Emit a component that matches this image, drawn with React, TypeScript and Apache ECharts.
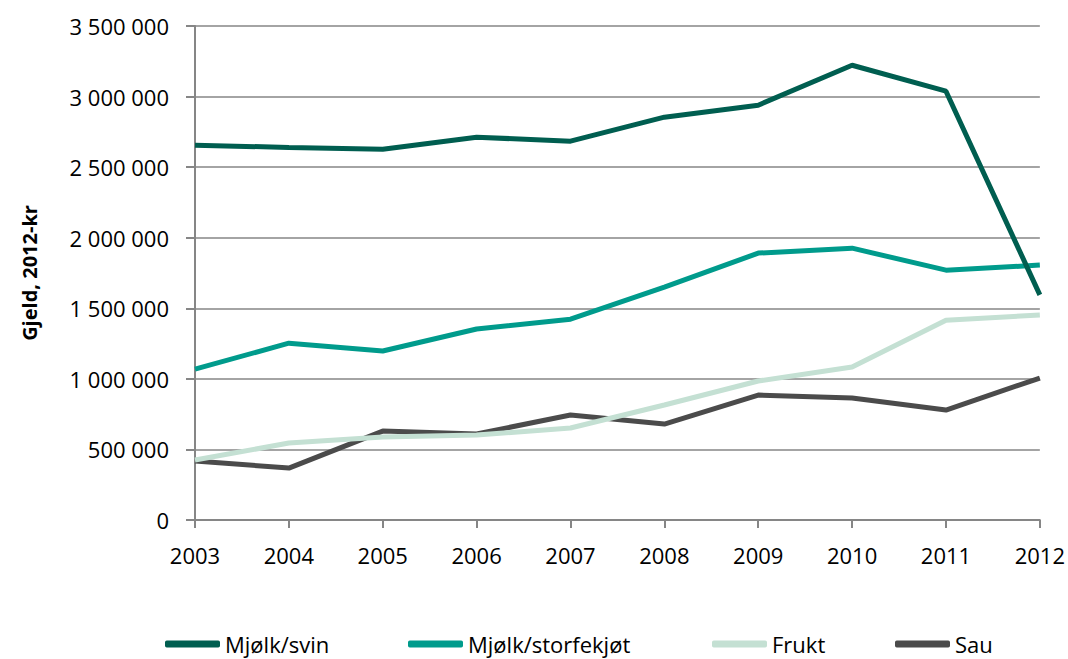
import React, { useEffect, useRef } from "react";
import * as echarts from "echarts";

const years = ["2003", "2004", "2005", "2006", "2007", "2008", "2009", "2010", "2011", "2012"];
const seriesNames = ["Mjølk/svin", "Mjølk/storfekjøt", "Frukt", "Sau"];
const mjolkSvin = [2655000, 2640000, 2627000, 2712000, 2684000, 2854000, 2939000, 3222000, 3038000, 1595000];
const mjolkStorfe = [1069000, 1253000, 1197000, 1353000, 1423000, 1650000, 1891000, 1926000, 1770000, 1806000];
const frukt = [425000, 545000, 588000, 602000, 652000, 815000, 985000, 1084000, 1416000, 1452000];
const sau = [418000, 368000, 630000, 609000, 744000, 680000, 885000, 864000, 779000, 1006000];
const colors = ["#005E50", "#009B8C", "#C4E0D3", "#4B4B4B"];

const FONT = "'Open Sans', sans-serif";

function fmt(v: number): string {
  return String(Math.round(v)).replace(/\B(?=(\d{3})+(?!\d))/g, " ");
}

export default function App() {
  const ref = useRef<HTMLDivElement>(null);
  useEffect(() => {
    if (!ref.current) return;
    const chart = echarts.init(ref.current, undefined, { renderer: "svg" });
    const data = [mjolkSvin, mjolkStorfe, frukt, sau];
    const legendLefts = [165, 408, 712, 895];
    chart.setOption({
      animation: false,
      backgroundColor: "#ffffff",
      color: colors,
      grid: { left: 195, right: 28, top: 26, bottom: 139, containLabel: false },
      legend: seriesNames.map((n, i) => ({
        data: [{ name: n, icon: "roundRect" }],
        left: legendLefts[i],
        top: 633,
        padding: 0,
        itemWidth: 55,
        itemHeight: 7,
        textStyle: { fontFamily: FONT, fontSize: 22, color: "#000", lineHeight: 22 },
      })),
      xAxis: {
        type: "category",
        data: years,
        boundaryGap: false,
        axisLine: { lineStyle: { color: "#868686", width: 2 } },
        axisTick: { show: true, length: 8, lineStyle: { color: "#868686", width: 2 } },
        axisLabel: { fontFamily: FONT, fontSize: 22, color: "#000", margin: 24 },
        splitLine: { show: false },
      },
      yAxis: {
        type: "value",
        min: 0,
        max: 3500000,
        interval: 500000,
        name: "Gjeld, 2012-kr",
        nameLocation: "middle",
        nameGap: 156,
        nameTextStyle: { fontFamily: FONT, fontSize: 20, fontWeight: "bold", color: "#000" },
        axisLine: { show: true, lineStyle: { color: "#868686", width: 2 } },
        axisTick: { show: true, length: 9, lineStyle: { color: "#868686", width: 2 } },
        axisLabel: { fontFamily: FONT, fontSize: 22, color: "#000", margin: 26, formatter: (v: number) => fmt(v) },
        splitLine: { show: true, lineStyle: { color: "#868686", width: 1.5 } },
      },
      series: seriesNames.map((n, i) => ({
        name: n,
        type: "line",
        data: data[i],
        symbol: "none",
        lineStyle: { width: 5, color: colors[i] },
        itemStyle: { color: colors[i] },
        z: 10 - i,
      })),
    });
    return () => chart.dispose();
  }, []);
  return <div ref={ref} style={{ width: 1068, height: 659, position: "absolute", left: 0, top: 0 }} />;
}
